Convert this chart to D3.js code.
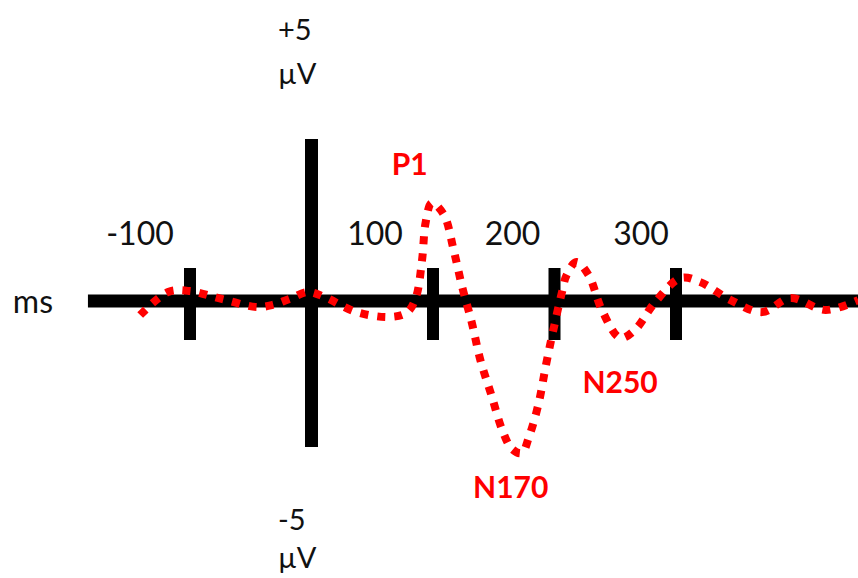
<!DOCTYPE html>
<html>
<head>
<meta charset="utf-8">
<script src="https://cdn.jsdelivr.net/npm/d3@7/dist/d3.min.js"></script>
<style>
  html, body { margin: 0; padding: 0; background: #fff; }
  svg { display: block; }
</style>
</head>
<body>
<svg id="chart" width="858" height="578"></svg>
<script>
// ---- data ----
const waveMs = [-141, -118, -100, -74, -45, -32, -18, -3, 11, 37, 66, 79, 86, 91, 94, 99, 109, 117, 124, 132, 139, 148, 157, 165, 173, 179, 187, 193, 199, 206, 210, 218, 228, 239, 254, 266, 283, 304, 320, 345, 371, 394, 423, 450];
const waveUv = [-0.47, 0.30, 0.33, 0.07, -0.20, -0.13, 0.07, 0.30, 0.13, -0.37, -0.53, -0.37, 0.13, 1.37, 2.63, 3.27, 2.87, 1.70, 0.47, -0.73, -1.97, -3.13, -4.30, -4.93, -5.07, -4.53, -3.40, -2.13, -0.97, 0.27, 0.87, 1.30, 0.87, -0.30, -1.23, -0.97, -0.03, 0.77, 0.63, 0.03, -0.37, 0.10, -0.30, 0.03];
const tickMs = [-100, 0, 100, 200, 300];
const tickLabels = ["-100", "", "100", "200", "300"];
const componentNames = ["P1", "N170", "N250"];
const componentMs = [99, 173, 254];
const componentUv = [3.27, -5.07, -1.23];
const xAxisExtentMs = [-184, 470];
const yAxisExtentUv = [5.4, -4.87];
const yTopLabel = ["+5", "µV"];
const yBottomLabel = ["-5", "µV"];
const xUnitLabel = "ms";

// ---- layout ----
const tickLabelDx = [-50, 0, -58, -42, -35];
const componentDx = [-22, -11, 0];
const componentDy = [-28, 45, 55];

const svg = d3.select("#chart");
const x = d3.scaleLinear().domain([-100, 300]).range([190, 676]);
const y = d3.scaleLinear().domain([-5, 5]).range([451, 151]);

const font = "Lato, 'Open Sans', sans-serif";

// horizontal axis line
svg.append("line")
  .attr("x1", x(xAxisExtentMs[0])).attr("x2", x(xAxisExtentMs[1]))
  .attr("y1", y(0)).attr("y2", y(0))
  .attr("stroke", "#000").attr("stroke-width", 13);

// vertical axis at 0 ms
svg.append("line")
  .attr("x1", x(0)).attr("x2", x(0))
  .attr("y1", y(yAxisExtentUv[0])).attr("y2", y(yAxisExtentUv[1]))
  .attr("stroke", "#000").attr("stroke-width", 13);

// ticks
svg.selectAll("line.tick").data(tickMs.filter(d => d !== 0)).enter()
  .append("line").attr("class", "tick")
  .attr("x1", d => x(d)).attr("x2", d => x(d))
  .attr("y1", y(1.1)).attr("y2", y(-1.3))
  .attr("stroke", "#000").attr("stroke-width", 12);

// tick labels
svg.selectAll("text.tl").data(tickMs).enter()
  .append("text").attr("class", "tl")
  .attr("x", (d, i) => x(d) + tickLabelDx[i])
  .attr("y", 245)
  .attr("text-anchor", "middle")
  .attr("font-family", font).attr("font-size", 32).attr("fill", "#111")
  .text((d, i) => tickLabels[i]);

// unit labels
svg.append("text").attr("x", 53).attr("y", 313).attr("text-anchor", "end")
  .attr("font-family", font).attr("font-size", 32).attr("fill", "#111").text(xUnitLabel);

svg.append("text").attr("x", 278).attr("y", 40)
  .attr("font-family", font).attr("font-size", 29).attr("fill", "#111").text(yTopLabel[0]);
svg.append("text").attr("x", 278).attr("y", 84)
  .attr("font-family", font).attr("font-size", 29).attr("fill", "#111").text(yTopLabel[1]);
svg.append("text").attr("x", 278).attr("y", 530)
  .attr("font-family", font).attr("font-size", 29).attr("fill", "#111").text(yBottomLabel[0]);
svg.append("text").attr("x", 278).attr("y", 568)
  .attr("font-family", font).attr("font-size", 29).attr("fill", "#111").text(yBottomLabel[1]);

// waveform
const pts = waveMs.map((m, i) => [m, waveUv[i]]);
const line = d3.line().x(d => x(d[0])).y(d => y(d[1])).curve(d3.curveCatmullRom.alpha(0.5));
svg.append("path").datum(pts)
  .attr("d", line)
  .attr("fill", "none")
  .attr("stroke", "#ff0000")
  .attr("stroke-width", 8)
  .attr("stroke-dasharray", "8 9")
  .attr("stroke-linecap", "butt");

// component labels
svg.selectAll("text.comp").data(componentNames).enter()
  .append("text").attr("class", "comp")
  .attr("x", (d, i) => x(componentMs[i]) + componentDx[i])
  .attr("y", (d, i) => y(componentUv[i]) + componentDy[i])
  .attr("text-anchor", "middle")
  .attr("font-family", font).attr("font-weight", "bold").attr("font-size", 30)
  .attr("fill", "#ff0000")
  .text(d => d);
</script>
</body>
</html>
